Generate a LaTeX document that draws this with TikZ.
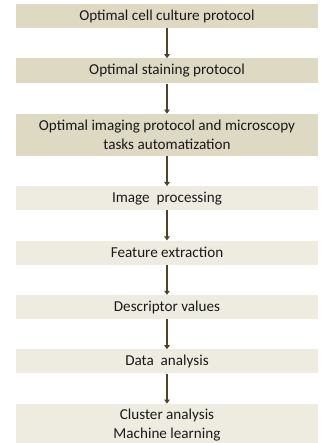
\documentclass[tikz,border=0pt]{standalone}
\usepackage{fontspec}
\setmainfont{Carlito}
\usepackage{xcolor}
\usetikzlibrary{arrows.meta,
                positioning}

\definecolor{tandark}{HTML}{DDD9C3}
\definecolor{tanlight}{HTML}{EEECE1}
\definecolor{arrowolive}{HTML}{4A452A}

\tikzset{
  stage/.style={fill=#1, minimum width=302bp, minimum height=24bp,
                inner sep=0pt, align=center, text=black!90,
                font=\fontsize{15.2}{19}\selectfont},
  stage/.default=tanlight,
  flow/.style={arrowolive, line width=1.4bp,
               -{Triangle[length=4bp,width=5.5bp]}},
  node distance=30bp
}

\begin{document}
\begin{tikzpicture}
\useasboundingbox (0,0) rectangle (327bp,-443bp);
\node[stage=tandark] (cult) at (167bp,-16bp) {Optimal cell culture protocol};
\node[stage=tandark, minimum height=25bp, below=of cult] (stain) {Optimal staining protocol};
\node[stage=tandark, minimum height=42bp, below=of stain] (imag)
  {Optimal imaging protocol and microscopy\\ tasks automatization};
\node[stage, below=of imag] (proc) {Image\ \ processing};
\node[stage, below=of proc] (feat) {Feature extraction};
\node[stage, below=of feat] (desc) {Descriptor values};
\node[stage, below=of desc] (data) {Data\ \ analysis};
\node[stage, minimum height=42bp, below=of data] (clus)
  {Cluster analysis\\ Machine learning};

% arrows between stages
\foreach \a/\b in {cult/stain, stain/imag, imag/proc, proc/feat,
                   feat/desc, desc/data, data/clus}
  \draw[flow] (\a) -- (\b);
\end{tikzpicture}
\end{document}
